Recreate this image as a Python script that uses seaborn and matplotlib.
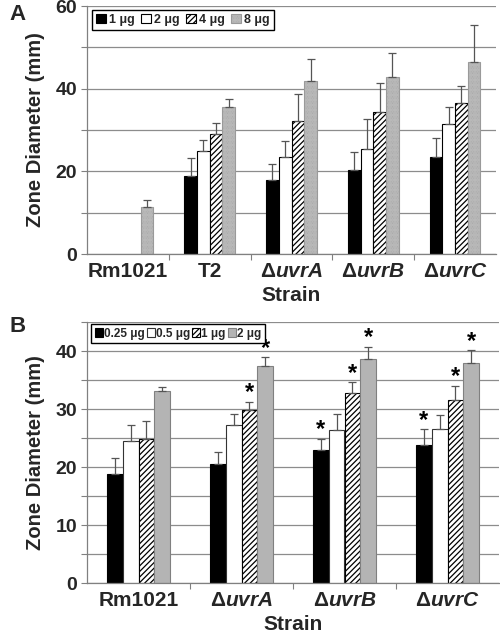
import numpy as np
import pandas as pd
import matplotlib
matplotlib.use("Agg")
import matplotlib.pyplot as plt
import seaborn as sns

sns.set_theme(style="white")
plt.rcParams['font.family'] = ['Liberation Sans', 'DejaVu Sans']
plt.rcParams['font.weight'] = 'bold'
plt.rcParams['mathtext.fontset'] = 'custom'
plt.rcParams['mathtext.rm'] = 'Liberation Sans:bold'
plt.rcParams['mathtext.bf'] = 'Liberation Sans:bold'
plt.rcParams['mathtext.it'] = 'Liberation Sans:italic:bold'
plt.rcParams['hatch.linewidth'] = 0.9

# ---- Panel A data ----
strains_a = ["Rm1021", "T2", r"$\Delta\mathit{uvrA}$", r"$\Delta\mathit{uvrB}$", r"$\Delta\mathit{uvrC}$"]
doses_a = ["1 μg", "2 μg", "4 μg", "8 μg"]
mean_a = {
    "1 μg": [np.nan, 19.0, 17.8, 20.4, 23.5],
    "2 μg": [np.nan, 24.9, 23.5, 25.5, 31.4],
    "4 μg": [np.nan, 29.1, 32.3, 34.3, 36.5],
    "8 μg": [11.5, 35.5, 41.8, 42.9, 46.5],
}
err_a = {
    "1 μg": [0, 4.3, 3.9, 4.2, 4.5],
    "2 μg": [0, 2.8, 3.8, 7.1, 4.1],
    "4 μg": [0, 2.7, 6.3, 7.0, 4.1],
    "8 μg": [1.5, 2.1, 5.3, 5.8, 8.8],
}

# ---- Panel B data ----
strains_b = ["Rm1021", r"$\Delta\mathit{uvrA}$", r"$\Delta\mathit{uvrB}$", r"$\Delta\mathit{uvrC}$"]
doses_b = ["0.25 μg", "0.5 μg", "1 μg", "2 μg"]
mean_b = {
    "0.25 μg": [18.8, 20.6, 23.0, 23.8],
    "0.5 μg": [24.4, 27.2, 26.4, 26.5],
    "1 μg": [24.8, 29.8, 32.7, 31.6],
    "2 μg": [33.1, 37.5, 38.7, 38.0],
}
err_b = {
    "0.25 μg": [2.7, 2.0, 1.9, 2.7],
    "0.5 μg": [2.9, 2.0, 2.8, 2.4],
    "1 μg": [3.2, 1.4, 1.9, 2.4],
    "2 μg": [0.7, 1.4, 2.0, 2.1],
}
star_b = {
    "0.25 μg": [False, False, True, True],
    "0.5 μg": [False, False, False, False],
    "1 μg": [False, True, True, True],
    "2 μg": [False, True, True, True],
}

styles_a = [
    dict(facecolor="black", edgecolor="black", hatch=None),
    dict(facecolor="white", edgecolor="black", hatch=None),
    dict(facecolor="white", edgecolor="black", hatch="//////"),
    dict(facecolor="#d4d4d4", edgecolor="#9a9a9a", hatch=".........."),
]
styles_b = [
    dict(facecolor="black", edgecolor="black", hatch=None),
    dict(facecolor="white", edgecolor="#333333", hatch=None),
    dict(facecolor="white", edgecolor="black", hatch="//////"),
    dict(facecolor="#b4b4b4", edgecolor="#808080", hatch=None),
]


def long_df(strains, doses, means):
    rows = []
    for d in doses:
        for s, v in zip(strains, means[d]):
            rows.append({"Strain": s, "Dose": d, "Value": v})
    return pd.DataFrame(rows)


def draw_panel(ax, strains, doses, means, errs, styles, ymax, step, label_step,
               stars=None, legend_anchor=None, legend_kw=None):
    df = long_df(strains, doses, means).dropna()
    sns.barplot(data=df, x="Strain", y="Value", hue="Dose", order=strains,
                hue_order=doses, width=0.62, gap=0, errorbar=None, ax=ax,
                legend=False, linewidth=0.8)
    for i, (cont, st) in enumerate(zip(ax.containers, styles)):
        d = doses[i]
        for bar in cont:
            bar.set_facecolor(st["facecolor"])
            bar.set_edgecolor(st["edgecolor"])
            bar.set_linewidth(0.8)
            if st["hatch"]:
                bar.set_hatch(st["hatch"])
            xc = bar.get_x() + bar.get_width() / 2
            k = int(round(xc))
            h = bar.get_height()
            e = errs[d][k]
            ax.errorbar(xc, h, yerr=[[0], [e]], fmt="none", ecolor="#555555",
                        elinewidth=0.9, capsize=3, capthick=0.9, zorder=3)
            if stars is not None and stars[d][k]:
                ax.text(xc, h + e - 0.4, "*", ha="center", va="bottom",
                        fontsize=17, fontweight="bold", color="black")
    ax.set_ylim(0, ymax)
    ax.set_xlim(-0.5, len(strains) - 0.5)
    ticks = np.arange(0, ymax + 0.01, step)
    ax.set_yticks(ticks)
    ax.set_yticklabels([f"{t:g}" if t % label_step == 0 else "" for t in ticks],
                       fontsize=14, fontweight="bold")
    ax.yaxis.grid(True, color="#8c8c8c", linewidth=0.9)
    ax.set_axisbelow(True)
    ax.set_xticks(range(len(strains)))
    ax.set_xticklabels(strains, fontsize=15, fontweight="bold")
    ax.set_xticks(np.arange(0.5, len(strains) - 0.5, 1), minor=True)
    ax.tick_params(axis="x", which="major", length=0, pad=6)
    ax.tick_params(axis="x", which="minor", length=4, color="#808080", width=0.8,
                   direction="out", bottom=True)
    ax.tick_params(axis="y", length=4, color="#808080", width=0.8,
                   direction="out", left=True, pad=3)
    for s in ["top", "right"]:
        ax.spines[s].set_visible(False)
    for s in ["left", "bottom"]:
        ax.spines[s].set_color("#808080")
        ax.spines[s].set_linewidth(0.9)
    ax.set_xlabel("Strain", fontsize=15, fontweight="bold", labelpad=3)
    ax.set_ylabel("Zone Diameter (mm)", fontsize=14.5, fontweight="bold", labelpad=8)
    kw = dict(fontsize=9, handlelength=0.8, handleheight=0.8,
              handletextpad=0.25, columnspacing=0.5)
    if legend_kw:
        kw.update(legend_kw)
    ax.legend(handles=list(ax.containers), labels=doses, ncol=4,
              loc="upper left", bbox_to_anchor=legend_anchor,
              bbox_transform=ax.figure.transFigure,
              frameon=True, fancybox=False, edgecolor="black",
              framealpha=1, borderpad=0.3, borderaxespad=0, **kw)


fig = plt.figure(figsize=(5, 6.32), dpi=100)
ax1 = fig.add_axes([0.174, 0.598, 0.818, 0.3925])
ax2 = fig.add_axes([0.174, 0.0775, 0.824, 0.413])

draw_panel(ax1, strains_a, doses_a, mean_a, err_a, styles_a, 60, 10, 20,
           legend_anchor=(92 / 500, 1 - 10 / 632))
draw_panel(ax2, strains_b, doses_b, mean_b, err_b, styles_b, 45, 5, 10,
           stars=star_b, legend_anchor=(91 / 500, 1 - 324 / 632),
           legend_kw=dict(fontsize=8.5, handletextpad=0.1, columnspacing=0.15,
                          handlelength=0.7, handleheight=0.7))

fig.text(18 / 500, 1 - 15 / 632, "A", fontsize=16, fontweight="bold",
         ha="center", va="center")
fig.text(18 / 500, 1 - 326 / 632, "B", fontsize=16, fontweight="bold",
         ha="center", va="center")

fig.savefig("out.png", dpi=100)
plt.close(fig)
